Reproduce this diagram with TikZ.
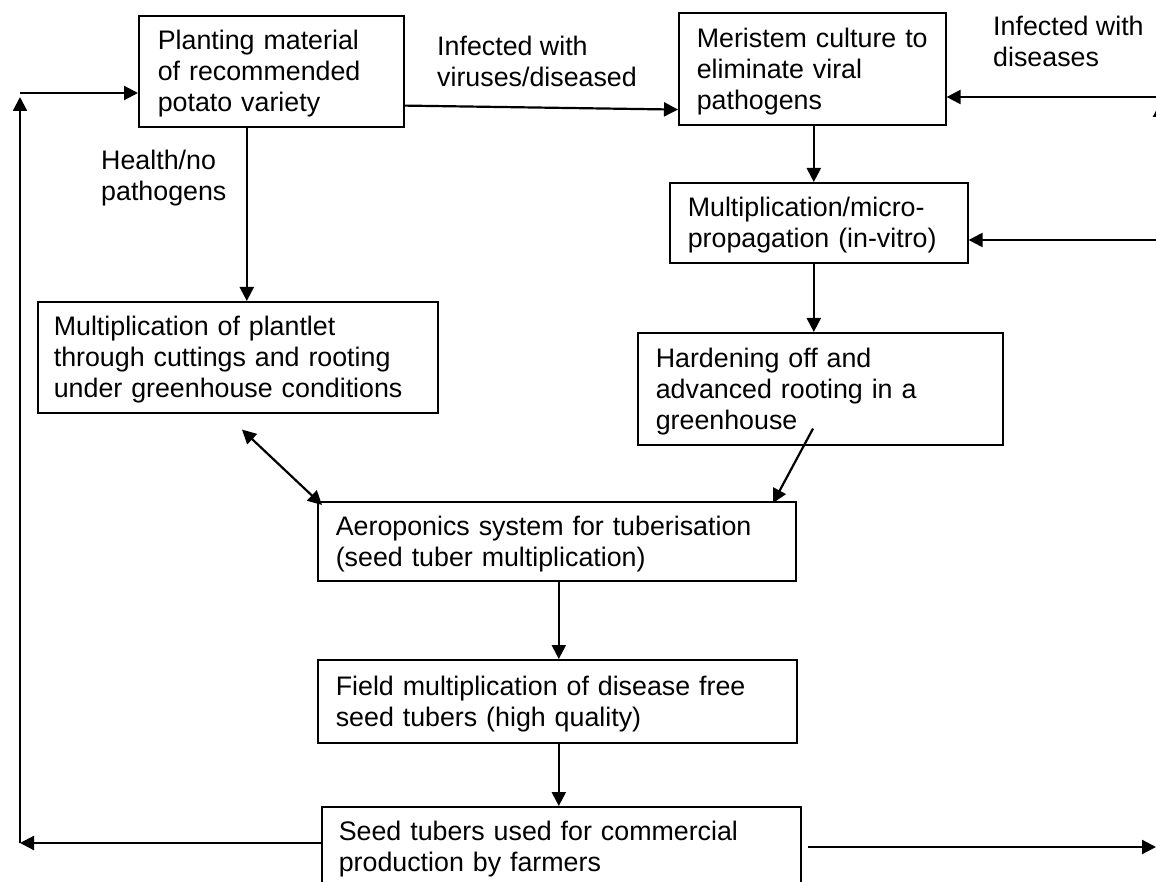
\documentclass[tikz,border=0pt]{standalone}
\usepackage{fontspec}
\setmainfont{Liberation Sans}
\usetikzlibrary{arrows.meta,calc}
\newcommand{\diagfont}{\fontsize{26.8pt}{31pt}\selectfont}
\tikzset{
  box/.style={draw, line width=1.6pt, anchor=north west, align=left,
    inner ysep=0pt, font=\diagfont, text height=19.2pt},
  lbl/.style={anchor=north west, align=left, inner sep=0pt,
    font=\diagfont, text height=50.2pt, text depth=0pt},
  arr/.style={line width=2.2pt, -{Triangle[length=14pt,width=14pt]}},
  biarr/.style={line width=2.2pt, {Triangle[length=14pt,width=14pt]}-{Triangle[length=14pt,width=14pt]}}
}
\begin{document}
\begin{tikzpicture}[x=1pt,y=-1pt]
\useasboundingbox (0,0) rectangle (1156,882);
\clip (0,0) rectangle (1156,882);
\fill[white] (0,0) rectangle (1156,882);

% boxes
\node[box, inner xsep=19pt, text width=227pt, minimum height=111pt, text depth=62pt] (A) at (138,15)
  {Planting material\\of recommended\\potato variety};
\node[box, inner xsep=18pt, text width=231pt, minimum height=112pt, text depth=62pt] (B) at (678,12)
  {Meristem culture to\\eliminate viral\\pathogens};
\node[box, inner xsep=18pt, text width=262pt, minimum height=80pt, text depth=31pt] (C) at (669,182)
  {Multiplication/micro-\\propagation (in-vitro)};
\node[box, inner xsep=18pt, text width=329pt, minimum height=112pt, text depth=62pt] (D) at (637,332)
  {Hardening off and\\advanced rooting in a\\greenhouse};
\node[box, inner xsep=16pt, text width=368pt, minimum height=111pt, text depth=62pt] (E) at (37,301)
  {Multiplication of plantlet\\through cuttings and rooting\\under greenhouse conditions};
\node[box, inner xsep=18pt, text width=442pt, minimum height=79pt, text depth=31pt] (F) at (317,501)
  {Aeroponics system for tuberisation\\(seed tuber multiplication)};
\node[box, inner xsep=18pt, text width=443pt, minimum height=83pt, text depth=31pt] (G) at (317,659)
  {Field multiplication of disease free\\seed tubers (high quality)};
\node[box, inner xsep=17pt, text width=445pt, minimum height=80pt, text depth=31pt] (H) at (321,806)
  {Seed tubers used for commercial\\production by farmers};

% labels
\node[lbl] (L1) at (437,36) {Infected with\\viruses/diseased};
\node[lbl] (L2) at (993,16) {Infected with\\diseases};
\node[lbl] (L3) at (101,150) {Health/no\\pathogens};

% free ends
\coordinate (rb) at (1156,97);
\coordinate (rc) at (1156,240);
\coordinate (bl) at (20,843);
\coordinate (tl) at (20,97);
\coordinate (lt) at (20,93);
\coordinate (br) at (1156,847);
\coordinate (rv1) at (1160,847);
\coordinate (rv2) at (1160,103);

% connectors
\draw[arr] ($(A.south east)+(0pt,22pt)$) -- ($(B.south west)+(0pt,16pt)$);
\draw[arr] (rb) -- (rb -| B.east);
\draw[arr] (rc) -- (rc -| C.east);
\draw[arr] ([xshift=1.5pt]B.south) -- ([xshift=1.5pt]B.south |- C.north);
\draw[arr] ([xshift=-5pt]C.south) -- ([xshift=-5pt]C.south |- D.north);
\draw[arr] ([xshift=-24.5pt]A.south) -- ([xshift=-24.5pt]A.south |- E.north);
\draw[biarr] ($(E.south west)+(205pt,-16pt)$) -- ($(F.north west)+(5pt,-4pt)$);
\draw[arr] ($(D.south west)+(176pt,17pt)$) -- ($(F.north west)+(456pt,-2pt)$);
\draw[arr] ([xshift=2pt]F.south) -- ([xshift=2pt]F.south |- G.north);
\draw[arr] ([xshift=1.5pt]G.south) -- ([xshift=1.5pt]G.south |- H.north);
\draw[arr] (H.west |- bl) -- (bl);
\draw[arr] (bl) -- (tl);
\draw[arr] (lt) -- (lt -| A.west);
\draw[arr] ($(H.east |- br)+(6pt,0pt)$) -- (br);
\draw[arr] (rv1) -- (rv2);
\end{tikzpicture}
\end{document}
